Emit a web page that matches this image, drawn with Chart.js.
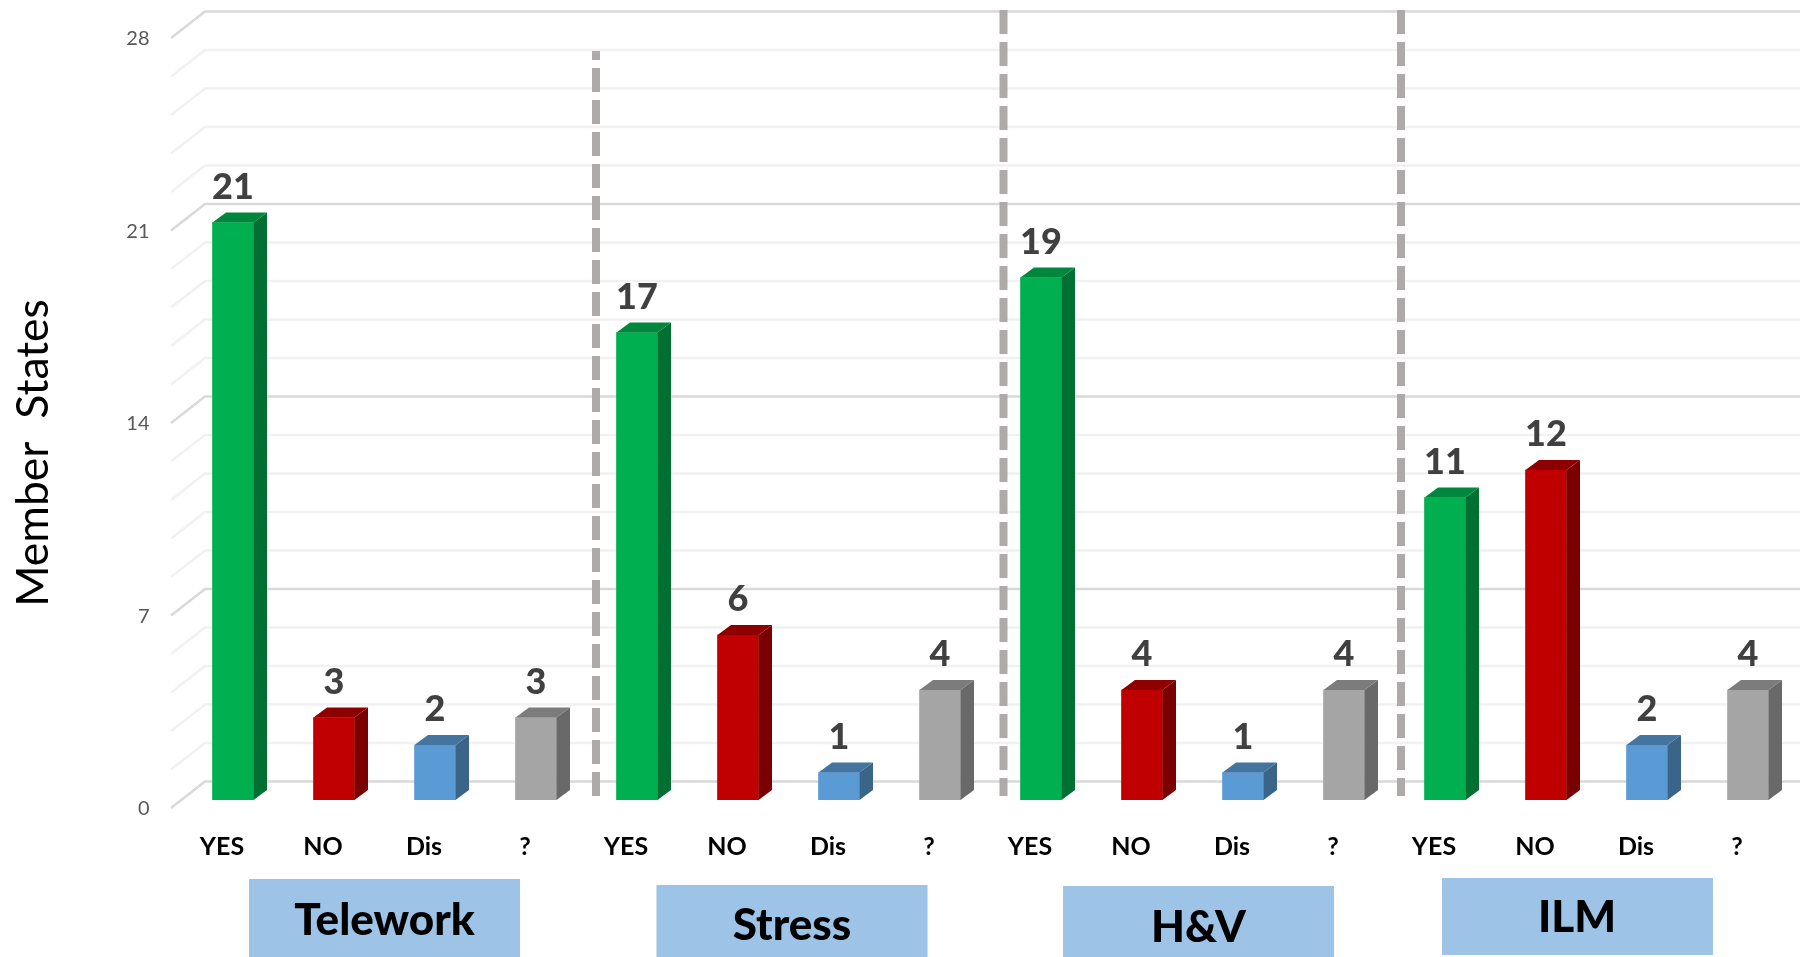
<!DOCTYPE html>
<html>
<head>
<meta charset="utf-8">
<style>html,body{margin:0;padding:0;background:#fff;overflow:hidden}canvas{display:block}</style>
<script src="https://cdn.jsdelivr.net/npm/chart.js@4/dist/chart.umd.min.js"></script>
</head>
<body>
<canvas id="c" width="1800" height="957"></canvas>
<script>
const answers = ['YES', 'NO', 'Dis', '?'];
const telework = [21, 3, 2, 3];
const stress = [17, 6, 1, 4];
const healthVisits = [19, 4, 1, 4];
const ilm = [11, 12, 2, 4];
const groupNames = ['Telework', 'Stress', 'H&V', 'ILM'];
const gridValues = [0,1.4,2.8,4.2,5.6,7,8.4,9.8,11.2,12.6,14,15.4,16.8,18.2,19.6,21,22.4,23.8,25.2,26.6,28];
const labelledTicks = [0, 7, 14, 21, 28];
const yTitle = 'Member  States';

const categories = [...answers, ...answers, ...answers, ...answers];
const values = [...telework, ...stress, ...healthVisits, ...ilm];

const front = ['#00B050', '#C00000', '#5B9BD5', '#A5A5A5'];
const side = ['#007032', '#7A0000', '#3A6488', '#696969'];
const top3d = ['#00873D', '#8E0000', '#44759F', '#7C7C7C'];
const DX = 13.5, DY = 10;
const FONT = 'Lato, Carlito, sans-serif';
const isLabelled = v => labelledTicks.includes(v);

const boxes = [
  {x: 249, y: 879, w: 271, h: 78, tx: 384.5, ty: 921},
  {x: 656.5, y: 885, w: 271, h: 72, tx: 792, ty: 926},
  {x: 1063, y: 886, w: 271, h: 71, tx: 1198.5, ty: 928},
  {x: 1442, y: 878, w: 271, h: 77, tx: 1577, ty: 918}
];
const separators = [
  {x: 596, y0: 51, y1: 796, phase: 15},
  {x: 1003.5, y0: 10, y1: 796, phase: 0},
  {x: 1401, y0: 10, y1: 796, phase: 0}
];

const wall3d = {
  id: 'wall3d',
  beforeDatasetsDraw(chart) {
    const c = chart.ctx, y = chart.scales.y;
    c.save();
    gridValues.forEach(v => {
      const p = y.getPixelForValue(v);
      c.strokeStyle = isLabelled(v) ? '#D9D9D9' : '#F1F1F1';
      c.lineWidth = 2.5;
      c.beginPath();
      c.moveTo(171, p + 8);
      c.lineTo(205, p - 18.5);
      c.lineTo(1800, p - 18.5);
      c.stroke();
    });
    c.restore();
  },
  afterDatasetsDraw(chart) {
    const c = chart.ctx, y = chart.scales.y;
    const base = y.getPixelForValue(0);
    c.save();
    chart.getDatasetMeta(0).data.forEach((bar, i) => {
      const l = bar.x - bar.width / 2, r = bar.x + bar.width / 2, t = bar.y;
      const k = i % 4;
      c.fillStyle = side[k];
      c.beginPath();
      c.moveTo(r, t); c.lineTo(r + DX, t - DY); c.lineTo(r + DX, base - DY); c.lineTo(r, base);
      c.closePath(); c.fill();
      c.fillStyle = top3d[k];
      c.beginPath();
      c.moveTo(l, t); c.lineTo(l + DX, t - DY); c.lineTo(r + DX, t - DY); c.lineTo(r, t);
      c.closePath(); c.fill();
      c.fillStyle = '#404040';
      c.font = '900 36px ' + FONT;
      c.textAlign = 'center';
      c.textBaseline = 'alphabetic';
      c.fillText(String(values[i]), bar.x, t - 24);
    });
    separators.forEach(s => {
      c.strokeStyle = '#AEAAAA';
      c.lineWidth = 8;
      c.setLineDash([24, 8]);
      c.lineDashOffset = s.phase;
      c.beginPath();
      c.moveTo(s.x, s.y0);
      c.lineTo(s.x, s.y1);
      c.stroke();
    });
    c.setLineDash([]);
    boxes.forEach((b, i) => {
      c.fillStyle = '#9DC3E6';
      c.fillRect(b.x, b.y, b.w, b.h);
      c.fillStyle = '#000';
      c.font = '900 44px ' + FONT;
      c.textAlign = 'center';
      c.textBaseline = 'middle';
      c.fillText(groupNames[i], b.tx, b.ty);
    });
    c.save();
    c.translate(34, 453);
    c.rotate(-Math.PI / 2);
    c.fillStyle = '#000';
    c.font = '44.5px ' + FONT;
    c.textAlign = 'center';
    c.textBaseline = 'middle';
    c.fillText(yTitle, 0, 0);
    c.restore();
    c.restore();
  }
};

new Chart(document.getElementById('c'), {
  type: 'bar',
  data: {
    labels: categories,
    datasets: [{
      data: values,
      backgroundColor: categories.map((_, i) => front[i % 4]),
      barThickness: 41,
      borderWidth: 0
    }]
  },
  options: {
    responsive: false,
    animation: false,
    events: [],
    layout: {padding: {top: 30, right: 1.5, left: 0, bottom: 0}},
    plugins: {legend: {display: false}, title: {display: false}, tooltip: {enabled: false}},
    scales: {
      x: {
        grid: {display: false, drawTicks: false},
        border: {display: false},
        afterFit(s) { s.height = 157; },
        ticks: {
          color: '#000', font: {family: FONT, size: 25, weight: 'bold'},
          padding: 32, labelOffset: -11, maxRotation: 0, autoSkip: false
        }
      },
      y: {
        min: 0, max: 28,
        grid: {display: false, drawTicks: false},
        border: {display: false},
        afterFit(s) { s.width = 182.5; s.paddingTop = 0; s.paddingBottom = 0; },
        afterBuildTicks(s) { s.ticks = gridValues.map(v => ({value: v})); },
        ticks: {
          color: '#595959', font: {family: FONT, size: 20},
          padding: 33, labelOffset: 9, autoSkip: false,
          callback: v => isLabelled(v) ? String(v) : ''
        }
      }
    }
  },
  plugins: [wall3d]
});
</script>
</body>
</html>
